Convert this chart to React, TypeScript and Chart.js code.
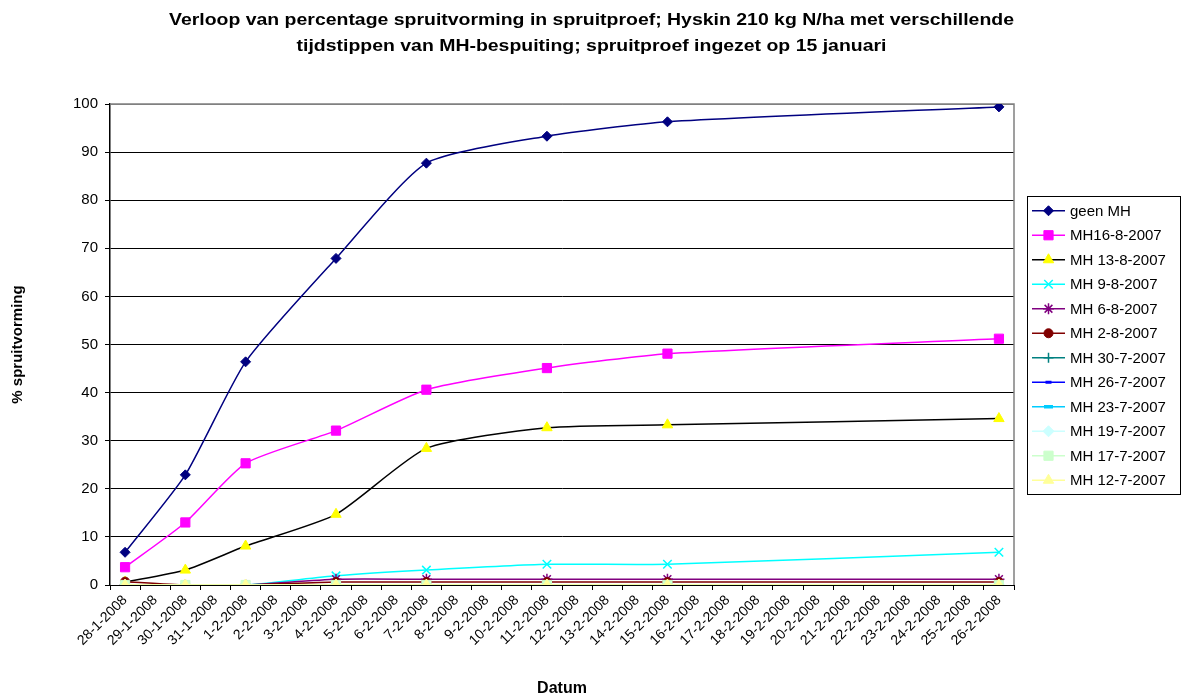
import React, { useEffect, useRef } from "react";
import { Chart, registerables } from "chart.js";
import { drawPoint } from "chart.js/helpers";

Chart.register(...registerables);

const FONT = '"Liberation Sans", Arial, sans-serif';

const titleLines = [
  "Verloop van percentage spruitvorming in spruitproef; Hyskin 210 kg N/ha met verschillende",
  "tijdstippen van MH-bespuiting; spruitproef ingezet op 15 januari",
];
const yTitle = "% spruitvorming";
const xTitle = "Datum";

const categories = [
  "28-1-2008", "29-1-2008", "30-1-2008", "31-1-2008", "1-2-2008", "2-2-2008",
  "3-2-2008", "4-2-2008", "5-2-2008", "6-2-2008", "7-2-2008", "8-2-2008",
  "9-2-2008", "10-2-2008", "11-2-2008", "12-2-2008", "13-2-2008", "14-2-2008",
  "15-2-2008", "16-2-2008", "17-2-2008", "18-2-2008", "19-2-2008", "20-2-2008",
  "21-2-2008", "22-2-2008", "23-2-2008", "24-2-2008", "25-2-2008", "26-2-2008",
];

const measureDates = [
  "28-1-2008", "30-1-2008", "1-2-2008", "4-2-2008",
  "7-2-2008", "11-2-2008", "15-2-2008", "26-2-2008",
];

const geenMH = [6.8, 22.9, 46.4, 67.9, 87.7, 93.3, 96.3, 99.4];
const mh16_8 = [3.7, 13.0, 25.3, 32.1, 40.6, 45.1, 48.1, 51.2];
const mh13_8 = [0.6, 3.1, 8.1, 14.7, 28.4, 32.7, 33.3, 34.6];
const mh9_8 = [0, 0, 0, 1.9, 3.1, 4.3, 4.3, 6.8];
const mh6_8 = [0, 0, 0, 1.2, 1.2, 1.2, 1.2, 1.2];
const mh2_8 = [0.7, 0, 0, 0.6, 0.6, 0.6, 0.6, 0.6];
const mh30_7 = [0, 0, 0, 0, 0, 0, 0, 0];
const mh26_7 = [0, 0, 0, 0, 0, 0, 0, 0];
const mh23_7 = [0, 0, 0, 0, 0, 0, 0, 0];
const mh19_7 = [0, 0, 0, 0, 0, 0, 0, 0];
const mh17_7 = [0, 0, 0, 0, 0, 0, 0, 0];
const mh12_7 = [0, 0, 0, 0, 0, 0, 0, 0];

const yTicks = [0, 10, 20, 30, 40, 50, 60, 70, 80, 90, 100];

type SeriesDef = {
  label: string;
  values: number[];
  line: string;
  fill: string;
  style: string;
  radius: number;
  pbw: number;
};

const seriesDefs: SeriesDef[] = [
  { label: "geen MH", values: geenMH, line: "#000080", fill: "#000080", style: "rectRot", radius: 5, pbw: 1 },
  { label: "MH16-8-2007", values: mh16_8, line: "#FF00FF", fill: "#FF00FF", style: "rect", radius: 6.5, pbw: 1 },
  { label: "MH 13-8-2007", values: mh13_8, line: "#000000", fill: "#FFFF00", style: "triangle", radius: 6, pbw: 1 },
  { label: "MH 9-8-2007", values: mh9_8, line: "#00FFFF", fill: "#00FFFF", style: "crossRot", radius: 6, pbw: 1.5 },
  { label: "MH 6-8-2007", values: mh6_8, line: "#800080", fill: "#800080", style: "star", radius: 5.5, pbw: 1.5 },
  { label: "MH 2-8-2007", values: mh2_8, line: "#800000", fill: "#800000", style: "circle", radius: 4.5, pbw: 1 },
  { label: "MH 30-7-2007", values: mh30_7, line: "#008080", fill: "#008080", style: "cross", radius: 5, pbw: 1.5 },
  { label: "MH 26-7-2007", values: mh26_7, line: "#0000FF", fill: "#0000FF", style: "line", radius: 3, pbw: 3 },
  { label: "MH 23-7-2007", values: mh23_7, line: "#00CCFF", fill: "#00CCFF", style: "line", radius: 4.5, pbw: 3.5 },
  { label: "MH 19-7-2007", values: mh19_7, line: "#CCFFFF", fill: "#CCFFFF", style: "rectRot", radius: 5.5, pbw: 1 },
  { label: "MH 17-7-2007", values: mh17_7, line: "#CCFFCC", fill: "#CCFFCC", style: "rect", radius: 6.5, pbw: 1 },
  { label: "MH 12-7-2007", values: mh12_7, line: "#FFFF99", fill: "#FFFF99", style: "triangle", radius: 6, pbw: 1 },
];

const titleBlock = {
  id: "titleBlock",
  afterDraw(chart: any) {
    const { ctx } = chart;
    ctx.save();
    ctx.font = `bold 16px ${FONT}`;
    ctx.fillStyle = "#000000";
    ctx.textAlign = "center";
    ctx.textBaseline = "middle";
    const w0 = ctx.measureText(titleLines[0]).width;
    const sx = 845 / w0;
    const cx = chart.width / 2;
    titleLines.forEach((t, i) => {
      ctx.save();
      ctx.translate(cx, 21 + i * 25.5);
      ctx.scale(sx, 1);
      ctx.fillText(t, 0, 0);
      ctx.restore();
    });
    ctx.restore();
  },
};

const frameAndLegend = {
  id: "frameAndLegend",
  beforeDatasetsDraw(chart: any) {
    const { ctx, chartArea } = chart;
    ctx.save();
    ctx.strokeStyle = "#808080";
    ctx.lineWidth = 1.5;
    ctx.beginPath();
    ctx.moveTo(chartArea.left, chartArea.top);
    ctx.lineTo(chartArea.right, chartArea.top);
    ctx.lineTo(chartArea.right, chartArea.bottom);
    ctx.stroke();
    ctx.restore();
  },
  afterDraw(chart: any) {
    const { ctx, chartArea } = chart;
    const datasets = chart.data.datasets;
    const boxLeft = chartArea.right + 13;
    const boxRight = chart.width - 3;
    const itemH = 24.5;
    const boxH = datasets.length * itemH + 4;
    const midY = (chartArea.top + chartArea.bottom) / 2;
    const boxTop = midY - boxH / 2;
    ctx.save();
    ctx.fillStyle = "#FFFFFF";
    ctx.fillRect(boxLeft, boxTop, boxRight - boxLeft, boxH);
    ctx.strokeStyle = "#000000";
    ctx.lineWidth = 1;
    ctx.strokeRect(Math.round(boxLeft) + 0.5, Math.round(boxTop) + 0.5, Math.round(boxRight - boxLeft), Math.round(boxH));
    datasets.forEach((ds: any, i: number) => {
      const y = boxTop + 3 + itemH * (i + 0.5);
      const x0 = boxLeft + 5;
      const x1 = boxLeft + 38;
      ctx.strokeStyle = ds.borderColor;
      ctx.lineWidth = 1.5;
      ctx.beginPath();
      ctx.moveTo(x0, y);
      ctx.lineTo(x1, y);
      ctx.stroke();
      ctx.fillStyle = ds.pointBackgroundColor;
      ctx.strokeStyle = ds.pointBorderColor;
      ctx.lineWidth = ds.pointBorderWidth;
      drawPoint(ctx, { pointStyle: ds.pointStyle, radius: ds.pointRadius, rotation: 0, borderWidth: ds.pointBorderWidth }, (x0 + x1) / 2, y);
      ctx.fillStyle = "#000000";
      ctx.font = `15px ${FONT}`;
      ctx.textAlign = "left";
      ctx.textBaseline = "middle";
      ctx.fillText(ds.label, x1 + 5, y + 1);
    });
    ctx.restore();
  },
};

export default function App() {
  const canvasRef = useRef<HTMLCanvasElement | null>(null);

  useEffect(() => {
    document.body.style.margin = "0";
    const canvas = canvasRef.current;
    if (!canvas) return;
    const datasets = seriesDefs.map((s, i) => ({
      label: s.label,
      data: measureDates.map((d, k) => ({ x: d, y: s.values[k] })),
      borderColor: s.line,
      backgroundColor: s.fill,
      borderWidth: 1.5,
      tension: 0.2,
      pointStyle: s.style,
      pointRadius: s.radius,
      pointBackgroundColor: s.fill,
      pointBorderColor: s.fill,
      pointBorderWidth: s.pbw,
      order: seriesDefs.length - i,
      fill: false,
    }));
    const chart = new Chart(canvas, {
      type: "line",
      data: { labels: categories, datasets },
      plugins: [frameAndLegend, titleBlock],
      options: {
        responsive: false,
        animation: false,
        devicePixelRatio: 1,
        layout: { padding: { left: 0, right: 169, top: 104, bottom: 0 } },
        plugins: {
          legend: { display: false },
          tooltip: { enabled: false },
          title: { display: false },
        },
        scales: {
          x: {
            type: "category",
            offset: true,
            afterFit: (scale: any) => {
              scale.height = 114;
            },
            grid: {
              offset: true,
              drawOnChartArea: false,
              drawTicks: true,
              tickLength: 5,
              color: "#000000",
              tickColor: "#000000",
            },
            border: { color: "#000000", width: 1 },
            ticks: {
              autoSkip: false,
              minRotation: 45,
              maxRotation: 45,
              color: "#000000",
              padding: 2,
              font: { family: FONT, size: 14 },
            },
            title: {
              display: true,
              text: xTitle,
              color: "#000000",
              font: { family: FONT, size: 16, weight: "bold" },
              padding: { top: 0, bottom: 1 },
            },
          },
          y: {
            min: 0,
            max: 100,
            afterFit: (scale: any) => {
              scale.width = 110;
            },
            afterBuildTicks: (scale: any) => {
              scale.ticks = yTicks.map((v) => ({ value: v }));
            },
            grid: {
              color: (c: any) => (c.tick && c.tick.value === 100 ? "#808080" : "#000000"),
              tickColor: "#000000",
              tickLength: 5,
              lineWidth: 1,
            },
            border: { color: "#000000", width: 1.5 },
            ticks: {
              color: "#000000",
              padding: 7,
              font: { family: FONT, size: 15 },
            },
            title: {
              display: true,
              text: yTitle,
              color: "#000000",
              font: { family: FONT, size: 15, weight: "bold" },
              padding: { top: 9, bottom: 0 },
            },
          },
        },
      },
    });
    return () => chart.destroy();
  }, []);

  return (
    <div style={{ width: 1183, height: 699 }}>
      <canvas ref={canvasRef} width={1183} height={699} style={{ display: "block" }} />
    </div>
  );
}
